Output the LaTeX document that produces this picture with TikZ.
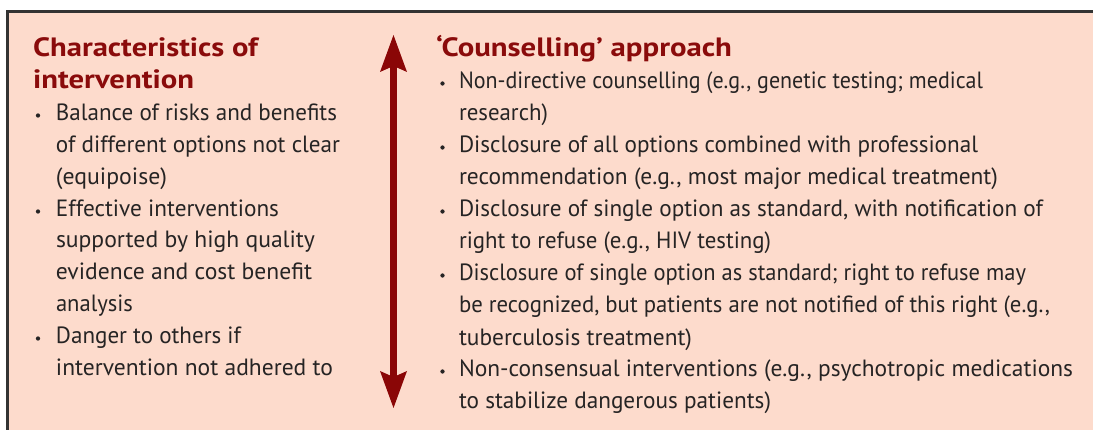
\documentclass[tikz,border=0pt]{standalone}
\usepackage{fontspec}
\setmainfont{PT Sans}
\usetikzlibrary{arrows.meta}
\definecolor{bgpeach}{HTML}{FDDBCC}
\definecolor{headred}{HTML}{8A0B0B}
\definecolor{arrowred}{HTML}{8A0606}
\definecolor{bodytxt}{HTML}{262424}
\definecolor{framegray}{HTML}{333333}
\newcommand{\bodyline}[2]{\resizebox{#1pt}{\height}{\fontsize{23.5}{28}\selectfont #2}}
\newcommand{\headline}[2]{\resizebox{#1pt}{\height}{\fontsize{26.5}{30}\selectfont\bfseries #2}}
\tikzset{
  txt/.style={anchor=base west, inner sep=0pt, outer sep=0pt, text=bodytxt},
  head/.style={anchor=base west, inner sep=0pt, outer sep=0pt, text=headred},
  bul/.style={circle, fill=bodytxt, inner sep=0pt, minimum size=4.3pt},
}
\begin{document}
\begin{tikzpicture}[x=1pt,y=-1pt]
\useasboundingbox (0,0) rectangle (1093,430);
\clip (0,0) rectangle (1093,430);
\fill[white] (0,0) rectangle (1093,430);
\draw[framegray, line width=2.6pt, fill=bgpeach] (7.5,11.5) rectangle (1110,450);

% left column
\node[head] (h1) at (33,56.7) {\headline{225}{Characteristics of}};
\node[head] (h2) at (33,88.3) {\headline{161}{intervention}};

\node[bul] (b1) at (38,115.5) {};
\node[txt] (l1) at (56,121) {\bodyline{281}{Balance of risks and benefits}};
\node[txt] (l2) at (56,153) {\bodyline{284}{of different options not clear}};
\node[txt] (l3) at (56,185) {\bodyline{111}{(equipoise)}};
\node[bul] (b2) at (38,211.5) {};
\node[txt] (l4) at (56,217) {\bodyline{223}{Effective interventions}};
\node[txt] (l5) at (56,248) {\bodyline{259}{supported by high quality}};
\node[txt] (l6) at (56,280) {\bodyline{256}{evidence and cost benefit}};
\node[txt] (l7) at (56,312) {\bodyline{77}{analysis}};
\node[bul] (b3) at (38,338.5) {};
\node[txt] (l8) at (56,344) {\bodyline{185}{Danger to others if}};
\node[txt] (l9) at (56,375) {\bodyline{277}{intervention not adhered to}};

% arrow
\coordinate (atop) at (393.5,35);
\coordinate (abot) at (393.5,408);
\draw[arrowred, line width=7pt,
  {Stealth[length=37pt,width=27pt,inset=6pt,line width=0pt]}-{Stealth[length=37pt,width=27pt,inset=6pt,line width=0pt]}]
  (atop) -- (abot);

% right column
\node[head] (h3) at (436,56.7) {\headline{296}{`Counselling' approach}};

\node[bul] (r1) at (442.5,83.5) {};
\node[txt] (t1) at (459,89) {\bodyline{524}{Non-directive counselling (e.g., genetic testing; medical}};
\node[txt] (t2) at (459,121) {\bodyline{89}{research)}};
\node[bul] (r2) at (442.5,147.5) {};
\node[txt] (t3) at (459,153) {\bodyline{519}{Disclosure of all options combined with professional}};
\node[txt] (t4) at (459,185) {\bodyline{539}{recommendation (e.g., most major medical treatment)}};
\node[bul] (r3) at (442.5,211.5) {};
\node[txt] (t5) at (459,217) {\bodyline{584}{Disclosure of single option as standard, with notification of}};
\node[txt] (t6) at (459,249) {\bodyline{312}{right to refuse (e.g., HIV testing)}};
\node[bul] (r4) at (442.5,275.5) {};
\node[txt] (t7) at (459,281) {\bodyline{567}{Disclosure of single option as standard; right to refuse may}};
\node[txt] (t8) at (459,313) {\bodyline{591}{be recognized, but patients are not notified of this right (e.g.,}};
\node[txt] (t9) at (459,345) {\bodyline{233}{tuberculosis treatment)}};
\node[bul] (r5) at (442.5,371.5) {};
\node[txt] (t10) at (459,377) {\bodyline{614}{Non-consensual interventions (e.g., psychotropic medications}};
\node[txt] (t11) at (459,409) {\bodyline{312}{to stabilize dangerous patients)}};
\end{tikzpicture}
\end{document}
